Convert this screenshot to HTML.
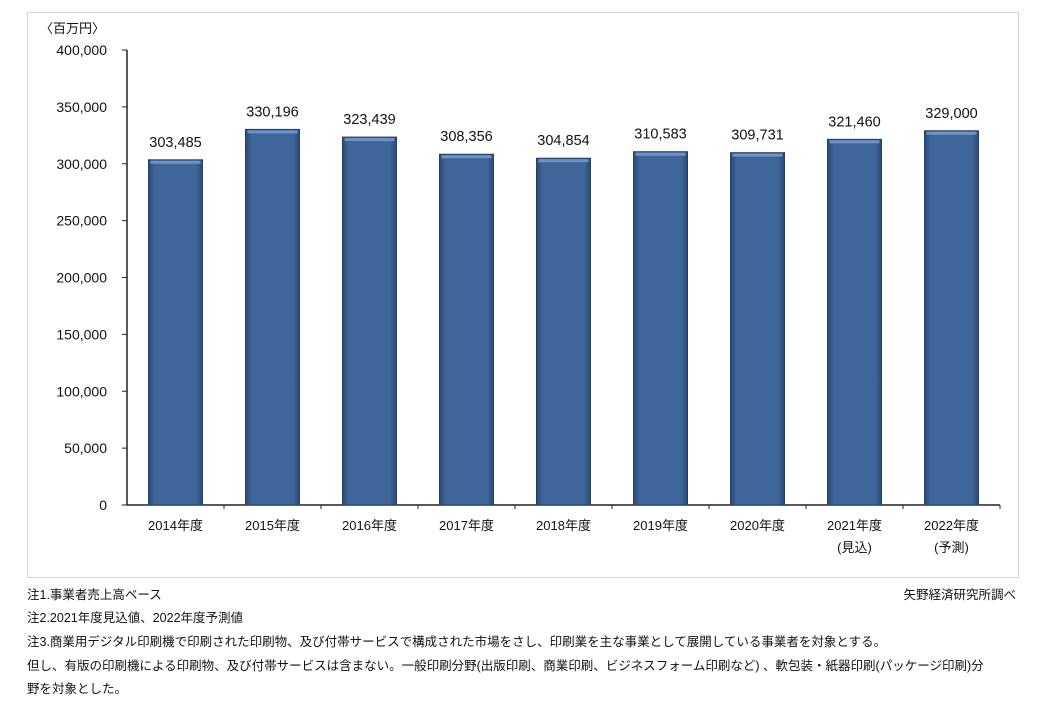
<!DOCTYPE html>
<html><head><meta charset="utf-8">
<style>
body{margin:0;background:#fff;width:1046px;height:720px;overflow:hidden;font-family:"Liberation Sans","Noto Sans CJK JP",sans-serif;}
.note{position:absolute;font-size:12.5px;color:#111;white-space:nowrap;}
</style></head>
<body>
<svg id="chart" width="1046" height="720" style="position:absolute;left:0;top:0">
<defs>
<linearGradient id="bg" x1="0" x2="1" y1="0" y2="0">
<stop offset="0" stop-color="#2b4a75"/><stop offset="0.12" stop-color="#3f669b"/><stop offset="0.88" stop-color="#3f669b"/><stop offset="1" stop-color="#2b4a75"/>
</linearGradient>
</defs>
<rect x="27.5" y="12.5" width="991" height="565" fill="none" stroke="#d4d4d4"/>
<text x="40" y="33" font-size="13" fill="#111" font-family="Liberation Sans,Noto Sans CJK JP,sans-serif">〈百万円〉</text>
<g id="axes"></g>
<g id="bars"></g>
</svg>
<div class="note" style="left:27px;top:584px">注1.事業者売上高ベース</div>
<div class="note" style="right:30px;top:584px">矢野経済研究所調べ</div>
<div class="note" style="left:27px;top:607px">注2.2021年度見込値、2022年度予測値</div>
<div class="note" style="left:27px;top:631px">注3.商業用デジタル印刷機で印刷された印刷物、及び付帯サービスで構成された市場をさし、印刷業を主な事業として展開している事業者を対象とする。</div>
<div class="note" style="left:27px;top:655px">但し、有版の印刷機による印刷物、及び付帯サービスは含まない。一般印刷分野(出版印刷、商業印刷、ビジネスフォーム印刷など) 、軟包装・紙器印刷(パッケージ印刷)分</div>
<div class="note" style="left:27px;top:678px">野を対象とした。</div>
<script>
const categories=["2014年度","2015年度","2016年度","2017年度","2018年度","2019年度","2020年度","2021年度","2022年度"];
const subLabels=["","","","","","","","(見込)","(予測)"];
const values=[303485,330196,323439,308356,304854,310583,309731,321460,329000];
const yTicks=[0,50000,100000,150000,200000,250000,300000,350000,400000];
const NS="http://www.w3.org/2000/svg";
const X0=127,X1=1000,Y0=505,Y1=50,YMAX=400000;
const y=v=>Y0-(v/YMAX)*(Y0-Y1);
const band=(X1-X0)/categories.length;
const xc=i=>X0+band*(i+0.5);
const fmt=v=>v.toLocaleString("en-US");
function mk(tag,attrs,parent){const e=document.createElementNS(NS,tag);for(const k in attrs)e.setAttribute(k,attrs[k]);parent.appendChild(e);return e;}
const axes=document.getElementById("axes"),bars=document.getElementById("bars");
yTicks.forEach(t=>{
  const tx=mk("text",{x:107,y:y(t)+5,"text-anchor":"end","font-size":"14",fill:"#111"},axes);
  
  
  tx.textContent=fmt(t);
  const tk=mk("line",{x1:X0-5,x2:X0,y1:y(t),y2:y(t),stroke:"#222"},axes);
  
  
});
const ya=mk("line",{x1:X0,x2:X0,y1:Y1,y2:Y0,stroke:"#222","stroke-width":1.5},axes);


categories.forEach((c,i)=>{
  const v=values[i],bw=54,x=xc(i)-bw/2;
  const r=mk("rect",{x:x,y:y(v),width:bw,height:Y0-y(v),fill:"url(#bg)",stroke:"#24416a","stroke-width":1},bars);
  
  
  const hl=mk("rect",{x:x+2,y:y(v)+1,width:bw-4,height:3,fill:"#6f93c4"},bars);
  
  
  const vl=mk("text",{x:xc(i),y:y(v)-13,"text-anchor":"middle","font-size":"14.5",fill:"#111"},bars);
  
  
  vl.textContent=fmt(v);
  const cl=mk("text",{x:xc(i),y:530,"text-anchor":"middle","font-size":"13",fill:"#111"},bars);
  
  
  cl.textContent=c;
  if(subLabels[i]){
    const sl=mk("text",{x:xc(i),y:552,"text-anchor":"middle","font-size":"13",fill:"#111"},bars);
    
    
    sl.textContent=subLabels[i];
  }
  const xt=mk("line",{x1:X0+band*(i+1),x2:X0+band*(i+1),y1:Y0,y2:Y0+4,stroke:"#222"},axes);
  
  
});
const xa=mk("line",{x1:X0,x2:X1,y1:Y0,y2:Y0,stroke:"#222","stroke-width":1.5},axes);


</script>
</body></html>
